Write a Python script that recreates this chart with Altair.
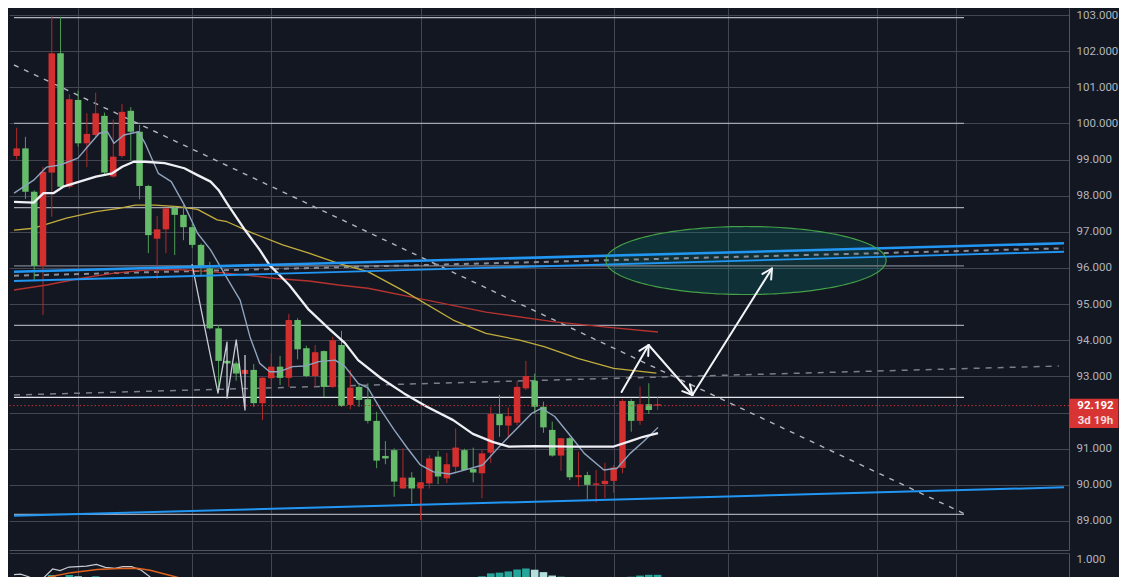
import math
import altair as alt
import numpy as np
import pandas as pd

# ---------------- data ----------------
OPEN = [99.31, 98.11, 96.06, 98.66, 101.94, 98.25, 100.67, 99.45, 99.71, 100.28,
        98.64, 99.08, 100.32, 99.77, 98.27, 96.91, 97.07, 97.65, 97.47, 97.13,
        96.64, 96.05, 94.33, 93.43, 93.36, 93.08, 93.18, 92.26, 92.96, 93.27,
        92.96, 94.56, 93.75, 93.01, 93.67, 92.71, 94.00, 92.18, 92.69, 92.35,
        91.77, 90.67, 90.73, 90.09, 90.20, 89.90, 90.07, 90.73, 90.23, 90.57,
        91.03, 90.41, 90.34, 90.87, 91.96, 91.65, 91.90, 92.71, 93.01, 92.16,
        91.59, 90.81, 91.29, 90.21, 90.27, 90.00, 90.04, 90.11, 90.48, 92.32,
        91.77, 92.23, 92.07, 92.23]
HIGH = [99.88, 99.63, 98.15, 98.80, 102.97, 102.95, 100.81, 100.91, 100.28, 100.85,
        100.30, 100.11, 100.54, 100.45, 99.96, 98.30, 97.44, 97.66, 97.70, 97.74,
        97.23, 96.68, 96.17, 94.42, 93.45, 93.41, 93.20, 93.34, 92.98, 93.64,
        93.57, 94.73, 94.61, 93.85, 93.87, 93.72, 94.10, 94.26, 93.18, 92.81,
        92.81, 92.02, 91.21, 91.01, 91.01, 90.35, 90.07, 90.82, 90.94, 90.88,
        91.56, 91.00, 91.03, 90.96, 92.16, 92.49, 92.14, 92.88, 93.43, 93.08,
        92.30, 91.75, 91.29, 91.33, 90.92, 90.36, 90.41, 90.61, 90.55, 92.37,
        92.37, 92.72, 92.81, 92.42]
LOW = [99.00, 97.91, 95.67, 94.70, 97.42, 98.20, 98.20, 99.36, 98.79, 99.62,
       98.57, 98.50, 99.05, 98.97, 97.90, 96.41, 95.69, 96.41, 96.36, 96.77,
       96.55, 95.76, 94.30, 92.62, 93.34, 92.88, 93.05, 92.16, 91.79, 92.67,
       92.76, 92.71, 93.47, 92.98, 92.71, 92.43, 92.68, 92.16, 92.09, 92.16,
       91.70, 90.46, 90.57, 89.67, 89.88, 89.49, 89.03, 89.90, 90.02, 90.05,
       90.31, 90.41, 90.07, 89.63, 90.60, 91.33, 91.29, 91.65, 92.62, 91.97,
       91.44, 90.78, 90.39, 90.13, 89.95, 89.60, 89.51, 89.63, 89.78, 90.32,
       91.47, 91.66, 91.96, 92.07]
CLOSE = [99.10, 99.31, 98.11, 96.06, 98.64, 101.94, 98.25, 100.65, 99.45, 99.68,
         100.21, 98.53, 99.10, 100.35, 99.77, 98.27, 96.81, 97.07, 97.66, 97.47,
         97.13, 96.64, 95.99, 94.33, 93.43, 93.36, 93.07, 93.18, 92.26, 92.95,
         93.27, 92.96, 94.56, 93.78, 93.01, 93.70, 92.71, 93.87, 92.21, 92.71,
         92.37, 91.77, 90.80, 90.96, 89.90, 90.20, 89.90, 90.04, 90.78, 90.18,
         90.50, 90.96, 90.44, 90.32, 90.89, 91.96, 91.64, 91.72, 92.67, 92.88,
         92.16, 91.52, 90.81, 91.29, 90.21, 90.27, 90.00, 90.02, 90.11, 90.47,
         92.32, 91.77, 92.23, 92.19]

LAST_PRICE = 92.192
LAST_TEXT = "92.192"
COUNTDOWN_TEXT = "3d 19h"

PRICE_TICKS = [89, 90, 91, 92, 93, 94, 95, 96, 97, 98, 99, 100, 101, 102, 103]
HIDDEN_TICK = 92  # its label sits under the last-price box
TIME_GRID = [7, 20, 29, 46, 59, 68, 81, 98, 107]

# moving averages (bar index, price)
FAST_X = [-0.30, 1.94, 3.39, 4.93, 6.98, 8.10, 9.41, 10.34, 11.09, 12.21, 13.89, 14.63,
          16.13, 17.61, 19.10, 20.60, 22.09, 23.96, 25.45, 26.57, 27.69, 28.81, 29.93,
          31.42, 32.92, 34.41, 36.28, 37.40, 38.89, 40.01, 41.50, 43.00, 44.49, 45.98,
          47.48, 49.34, 51.21, 53.08, 54.94, 56.81, 58.68, 59.80, 61.29, 63.16, 64.65,
          66.89, 68.38, 69.88, 71.37, 73.05]
FAST_Y = [98.07, 98.43, 98.79, 98.85, 99.04, 99.36, 99.73, 99.77, 99.45, 99.68, 99.77, 99.45,
          98.62, 98.39, 97.74, 96.96, 96.50, 95.72, 95.11, 94.10, 93.36, 93.13, 93.13,
          93.27, 93.29, 93.41, 93.45, 93.27, 92.81, 92.68, 92.07, 91.52, 91.02, 90.55,
          90.36, 90.30, 90.42, 90.55, 91.05, 91.52, 91.98, 92.12, 91.89, 91.33, 90.87,
          90.41, 90.46, 90.87, 91.19, 91.59]
SLOW_X = [-0.30, 1.94, 3.06, 4.18, 5.30, 7.17, 9.03, 10.90, 12.02, 13.33, 14.63, 16.86,
          19.10, 20.60, 22.09, 22.99, 23.96, 26.01, 27.69, 28.81, 31.05, 33.29, 35.53,
          37.40, 38.89, 41.50, 44.12, 46.73, 49.72, 51.96, 54.20, 56.06, 59.05, 63.16,
          68.01, 69.88, 71.37, 73.05]
SLOW_Y = [97.83, 97.81, 98.07, 98.07, 98.25, 98.39, 98.53, 98.62, 98.80, 98.94, 98.94, 98.90,
          98.76, 98.57, 98.39, 98.16, 97.79, 97.05, 96.50, 96.08, 95.53, 94.84, 94.33,
          93.92, 93.45, 92.95, 92.53, 92.16, 91.79, 91.41, 91.19, 91.06, 91.07, 91.06,
          91.06, 91.21, 91.33, 91.43]
MA50_X = [-0.30, 1.94, 3.81, 5.67, 9.03, 11.65, 13.51, 15.74, 18.37, 20.60, 22.84, 23.96,
          26.94, 30.30, 33.29, 36.65, 40.01, 44.49, 49.72, 53.45, 57.18, 60.17, 63.90,
          68.01, 72.86]
MA50_Y = [97.05, 97.10, 97.24, 97.38, 97.56, 97.65, 97.74, 97.74, 97.70, 97.62, 97.33, 97.28,
          96.96, 96.64, 96.41, 96.13, 95.90, 95.31, 94.56, 94.19, 94.01, 93.82, 93.50,
          93.22, 93.09]
MA200_X = [-0.30, 3.43, 7.17, 10.90, 14.63, 18.37, 22.09, 25.82, 29.56, 33.29, 36.65, 40.01,
           46.73, 53.45, 61.29, 66.89, 73.05]
MA200_Y = [95.39, 95.53, 95.71, 95.85, 95.94, 95.96, 95.90, 95.81, 95.71, 95.64, 95.53, 95.44,
           95.11, 94.78, 94.51, 94.37, 94.23]
ZIG_X = [19.97, 22.93, 23.96, 23.96, 25.01, 26.01, 26.01]
ZIG_Y = [96.11, 92.54, 93.95, 92.40, 94.01, 92.07, 93.59]

# drawn horizontal levels
LEVELS = [102.93, 100.00, 97.67, 96.06, 94.41, 92.42, 89.18]
LEVEL_END = 107.9

# drawn trend lines (x0, y0, x1, y1) in bar index / price
CHANNEL_TOP = (-0.30, 95.897, 119.29, 96.683)
CHANNEL_BOTTOM = (-0.30, 95.640, 119.29, 96.450)
CHANNEL_MID = (-0.30, 95.786, 119.29, 96.545)
SUPPORT = (-0.30, 89.143, 119.29, 89.931)
DOWNTREND = (-0.30, 101.617, 107.9, 89.206)
FLAT_DASH = (-0.30, 92.485, 118.7, 93.288)

# projected path arrows
ARROW_X = [68.90, 71.98, 76.97, 86.03]
ARROW_Y = [92.568, 93.869, 92.485, 95.986]

# target zone ellipse: centre and radii
ZONE_C = (83.07, 96.207)
ZONE_R = (15.96, 0.941)

# lower indicator pane (only its top is visible)
HIST_X = [4, 6, 7, 9, 53, 54, 55, 56, 57, 58, 59, 60, 61, 62, 70, 71, 72, 73]
HIST_V = [0.394, 0.394, 0.36, 0.36, 0.36, 0.44, 0.46, 0.494, 0.546, 0.574, 0.54, 0.474,
          0.38, 0.36, 0.354, 0.38, 0.40, 0.40]
HIST_KIND = ["up", "up", "fade", "up", "up", "up", "up", "up", "up", "up", "fade", "fade",
             "fade", "dark", "dark", "up", "up", "up"]
MACD_X = [-0.30, 0.45, 1.44, 2.27, 3.17, 4.10, 4.95, 5.95, 7.95, 9.09, 10.10, 11.20,
          12.09, 13.09, 14.20, 15.20, 15.93]
MACD_V = [0.406, 0.42, 0.34, 0.22, 0.34, 0.56, 0.514, 0.614, 0.64, 0.686, 0.606, 0.58,
          0.626, 0.626, 0.526, 0.34, 0.22]
SIG_X = [3.06, 3.70, 6.19, 9.19, 11.68, 13.70, 15.20, 18.17, 19.30]
SIG_V = [0.30, 0.34, 0.46, 0.546, 0.574, 0.58, 0.526, 0.34, 0.26]

# ---------------- styles / layout ----------------
BG = "#131722"
GRID = "#434651"
AXIS_LINE = "#50535e"
LABEL = "#b2b5be"
FONT = "Roboto"
GREEN, RED = "#66bb6a", "#d32f2f"
GREEN_WICK, RED_WICK = "#4f9d55", "#b02a2a"
BLUE = "#2196f3"
LEVEL_COLORS = ["#b2b5be", "#a3a6af", "#a3a6af", "#7d808a", "#a3a6af", "#e6e8ee", "#a3a6af"]
HIST_COLORS = {"up": "#26a69a", "fade": "#b2dfdb", "dark": "#2d5f5a"}

W, H = 1060, 542
H2 = 24
X_MIN, X_MAX = -0.302, 119.29
Y_MIN, Y_MAX = 88.197, 103.194
V_MIN, V_MAX = 0.34, 1.0
SX = W / (X_MAX - X_MIN)
SY = H / (Y_MAX - Y_MIN)

XS = alt.Scale(domain=[X_MIN, X_MAX], nice=False, zero=False)
YS = alt.Scale(domain=[Y_MIN, Y_MAX], nice=False, zero=False)
VS = alt.Scale(domain=[V_MIN, V_MAX], nice=False, zero=False)

XA = alt.Axis(values=TIME_GRID, grid=True, gridColor=GRID, gridWidth=1, labels=False,
              ticks=False, domain=True, domainColor=AXIS_LINE, title=None)
XA2 = alt.Axis(values=TIME_GRID, grid=True, gridColor=GRID, gridWidth=1, labels=False,
               ticks=False, domain=False, title=None)
YA = alt.Axis(orient="right", values=PRICE_TICKS, format=".3f", grid=True, gridColor=GRID,
              ticks=False, tickSize=0, domain=True, domainColor=AXIS_LINE, labelColor=LABEL,
              labelFont=FONT, labelFontSize=11.5, labelPadding=7, title=None,
              labelExpr=f"datum.value == {HIDDEN_TICK} ? '' : datum.label")
VA = alt.Axis(orient="right", values=[1.0], format=".3f", grid=True, gridColor=GRID,
              ticks=False, tickSize=0, domain=True, domainColor=AXIS_LINE, labelColor=LABEL,
              labelFont=FONT, labelFontSize=11.5, labelPadding=7, labelBaseline="top",
              title=None)


def X(f):
    return alt.X(f, type="quantitative", scale=XS, axis=XA)


def Y(f):
    return alt.Y(f, type="quantitative", scale=YS, axis=YA)


def Xb(f):
    return alt.X(f, type="quantitative", scale=XS, axis=XA2)


def Vb(f):
    return alt.Y(f, type="quantitative", scale=VS, axis=VA)


def line_layer(xs, ys, color, width, dash=None, opacity=1.0):
    d = pd.DataFrame({"x": xs, "y": ys, "k": list(range(len(xs)))})
    kw = dict(color=color, strokeWidth=width, clip=True, opacity=opacity, strokeJoin="round")
    if dash:
        kw["strokeDash"] = dash
    return alt.Chart(d).mark_line(**kw).encode(x=X("x"), y=Y("y"), order="k:Q")


def seg_layer(segs, color, width, dash=None, cap="butt"):
    d = pd.DataFrame(segs, columns=["x", "y", "x2", "y2"])
    kw = dict(color=color, strokeWidth=width, clip=True, strokeCap=cap)
    if dash:
        kw["strokeDash"] = dash
    return alt.Chart(d).mark_rule(**kw).encode(x=X("x"), y=Y("y"), x2="x2", y2="y2")


def wings(x0, y0, x1, y1, length=11.0, ang=28.0):
    dx = (x1 - x0) * SX
    dy = -(y1 - y0) * SY
    n = math.hypot(dx, dy)
    ux, uy = -dx / n, -dy / n
    out = []
    for s in (1, -1):
        a = math.radians(ang * s)
        wx = ux * math.cos(a) - uy * math.sin(a)
        wy = ux * math.sin(a) + uy * math.cos(a)
        out.append((x1, y1, x1 + wx * length / SX, y1 - wy * length / SY))
    return out


# ---------------- main pane ----------------
candles = pd.DataFrame({"x": list(range(len(OPEN))), "o": OPEN, "h": HIGH, "l": LOW, "c": CLOSE})
up = candles["c"] >= candles["o"]
candles["body"] = np.where(up, GREEN, RED)
candles["wick"] = np.where(up, GREEN_WICK, RED_WICK)

# zone ellipse
t_full = np.linspace(0, 2 * np.pi, 181)
zone_line = pd.DataFrame({"x": ZONE_C[0] + ZONE_R[0] * np.cos(t_full),
                          "y": ZONE_C[1] + ZONE_R[1] * np.sin(t_full),
                          "k": np.arange(len(t_full))})
t_half = np.linspace(0, np.pi, 91)
zone_fill = pd.DataFrame({"x": ZONE_C[0] + ZONE_R[0] * np.cos(t_half),
                          "y": ZONE_C[1] + ZONE_R[1] * np.sin(t_half),
                          "y2": ZONE_C[1] - ZONE_R[1] * np.sin(t_half)})

zone_area = alt.Chart(zone_fill).mark_area(color="#009688", opacity=0.2, clip=True).encode(
    x=X("x"), y=Y("y"), y2="y2")
zone_edge = alt.Chart(zone_line).mark_line(color="#43a047", strokeWidth=1.2, clip=True).encode(
    x=X("x"), y=Y("y"), order="k:Q")

levels = pd.DataFrame({"y": LEVELS, "x": [X_MIN] * len(LEVELS), "x2": [LEVEL_END] * len(LEVELS),
                       "col": LEVEL_COLORS})
level_layer = alt.Chart(levels).mark_rule(strokeWidth=1.3, clip=True).encode(
    x=X("x"), x2="x2", y=Y("y"), color=alt.Color("col:N", scale=None))

wick_layer = alt.Chart(candles).mark_rule(strokeWidth=1, clip=True).encode(
    x=X("x"), y=Y("l"), y2="h", color=alt.Color("wick:N", scale=None))
body_layer = alt.Chart(candles).mark_bar(size=6.5, clip=True).encode(
    x=X("x"), y=Y("o"), y2="c", color=alt.Color("body:N", scale=None))

ma200 = line_layer(MA200_X, MA200_Y, "#b5332f", 1.4)
ma50 = line_layer(MA50_X, MA50_Y, "#c2ad3c", 1.3)
fast = line_layer(FAST_X, FAST_Y, "#8ea3bd", 1.4)
slow = line_layer(SLOW_X, SLOW_Y, "#eef0f5", 2.3)
zig = line_layer(ZIG_X, ZIG_Y, "#c9ccd4", 1.3)

down_dash = seg_layer([DOWNTREND], "#b2b5be", 1.4, dash=[5, 6])
flat_dash = seg_layer([FLAT_DASH], "#7b7e89", 1.5, dash=[6, 6])
mid_dash = seg_layer([CHANNEL_MID], "#8a8d96", 2.0, dash=[5, 5])
blue_top = seg_layer([CHANNEL_TOP], BLUE, 2.6)
blue_bottom = seg_layer([CHANNEL_BOTTOM], BLUE, 1.8)
blue_support = seg_layer([SUPPORT], BLUE, 2.0)

arrow_segs = []
for j in range(len(ARROW_X) - 1):
    x0, y0, x1, y1 = ARROW_X[j], ARROW_Y[j], ARROW_X[j + 1], ARROW_Y[j + 1]
    arrow_segs.append((x0, y0, x1, y1))
    arrow_segs.extend(wings(x0, y0, x1, y1))
arrow_layer = seg_layer(arrow_segs, "#f2f4f8", 2.0, cap="round")

last = pd.DataFrame({"y": [LAST_PRICE], "yt": [LAST_PRICE + 6.8 / SY],
                     "yb": [LAST_PRICE - 22.4 / SY], "t1": [LAST_TEXT], "t2": [COUNTDOWN_TEXT]})
price_line = alt.Chart(last).mark_rule(color="#d8343a", strokeDash=[1.3, 2.4], strokeWidth=1).encode(
    y=Y("y"))
price_box = alt.Chart(last).mark_rect(color="#d93434").encode(
    x=alt.value(W), x2=alt.value(W + 49.5), y=Y("yt"), y2="yb")
price_txt = alt.Chart(last).mark_text(font=FONT, fontSize=11.5, fontWeight="bold", color="#ffffff",
                                      align="center", baseline="middle", dy=0.6).encode(
    x=alt.value(W + 26.5), y=Y("y"), text="t1:N")
count_txt = alt.Chart(last).mark_text(font=FONT, fontSize=11.5, fontWeight="bold", color="#f6dcdc",
                                      align="center", baseline="middle", dy=15.0).encode(
    x=alt.value(W + 26.5), y=Y("y"), text="t2:N")

main = alt.layer(
    zone_area, level_layer, down_dash, flat_dash, mid_dash,
    ma200, ma50, wick_layer, body_layer, fast, slow, zig,
    blue_top, blue_bottom, blue_support, zone_edge,
    price_line, arrow_layer, price_box, price_txt, count_txt,
).properties(width=W, height=H)

# ---------------- lower pane ----------------
hist = pd.DataFrame({"x": HIST_X, "v": HIST_V, "b": [0.0] * len(HIST_X),
                     "col": [HIST_COLORS[k] for k in HIST_KIND]})
hist_layer = alt.Chart(hist).mark_bar(size=7.6, clip=True).encode(
    x=Xb("x"), y=Vb("v"), y2="b", color=alt.Color("col:N", scale=None))
macd = pd.DataFrame({"x": MACD_X, "v": MACD_V, "k": list(range(len(MACD_X)))})
macd_layer = alt.Chart(macd).mark_line(color="#c8cbd2", strokeWidth=1.2, clip=True).encode(
    x=Xb("x"), y=Vb("v"), order="k:Q")
sig = pd.DataFrame({"x": SIG_X, "v": SIG_V, "k": list(range(len(SIG_X)))})
sig_layer = alt.Chart(sig).mark_line(color="#e0621c", strokeWidth=1.5, clip=True).encode(
    x=Xb("x"), y=Vb("v"), order="k:Q")

lower = alt.layer(hist_layer, macd_layer, sig_layer).properties(width=W, height=H2)

chart = alt.vconcat(main, lower, spacing=3).properties(
    background=BG, padding={"left": 0, "right": 0, "top": 0, "bottom": 0}
).configure_view(strokeWidth=0)

chart.save("out.html", embed_options={"renderer": "svg", "actions": False})
